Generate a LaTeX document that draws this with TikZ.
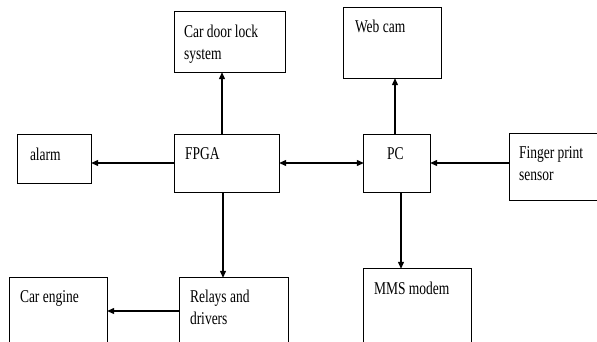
\documentclass[tikz,border=0pt]{standalone}
\usepackage{fontspec}
\setmainfont{Liberation Serif}[FakeStretch=0.75]
\usetikzlibrary{arrows.meta,calc}
\begin{document}
\begin{tikzpicture}[x=1pt,y=-1pt,
  box/.style={draw=black,line width=1pt},
  lbl/.style={anchor=base west,inner sep=0pt,align=left,font=\fontsize{18}{22}\selectfont},
  arr/.style={line width=1.2pt,-{Triangle[length=7pt,width=6pt]}},
  darr/.style={line width=1.2pt,{Triangle[length=7pt,width=6pt]}-{Triangle[length=7pt,width=6pt]}}]
\clip (0,0) rectangle (597,341);
\useasboundingbox (0,0) rectangle (597,341);
\fill[white] (0,0) rectangle (597,341);
% boxes
\node[inner sep=0pt,minimum width=110pt,minimum height=60pt] (door) at (230,42) {};
\node[inner sep=0pt,minimum width=104pt,minimum height=57pt] (fpga) at (227,163.5) {};
\node[inner sep=0pt,minimum width=73pt,minimum height=48pt] (alarm) at (54.5,159) {};
\node[inner sep=0pt,minimum width=97pt,minimum height=70pt] (webcam) at (392.5,43) {};
\node[inner sep=0pt,minimum width=66pt,minimum height=57pt] (pc) at (397,163.5) {};
\node[inner sep=0pt,minimum width=90pt,minimum height=66pt] (finger) at (555,167) {};
\node[inner sep=0pt,minimum width=108pt,minimum height=72pt] (relays) at (234,314) {};
\node[inner sep=0pt,minimum width=97pt,minimum height=72pt] (engine) at (58.5,314) {};
\node[inner sep=0pt,minimum width=107pt,minimum height=81pt] (mms) at (417.5,309.5) {};
\foreach \n in {door,fpga,alarm,webcam,pc,finger,relays,engine,mms}
  \draw[box] (\n.north west) rectangle (\n.south east);
% labels
\node[lbl] (tdoor) at ($(door.north west)+(9,48)$) {Car door lock\\system};
\node[lbl] (tfpga) at ($(fpga.north west)+(10,25)$) {FPGA};
\node[lbl] (talarm) at ($(alarm.north west)+(12,26)$) {alarm};
\node[lbl] (twebcam) at ($(webcam.north west)+(11,25)$) {Web cam};
\node[lbl] (tpc) at ($(pc.north west)+(23,25)$) {PC};
\node[lbl] (tfinger) at ($(finger.north west)+(9,47)$) {Finger print\\sensor};
\node[lbl] (trelays) at ($(relays.north west)+(10,47)$) {Relays and\\drivers};
\node[lbl] (tengine) at ($(engine.north west)+(10,25)$) {Car engine};
\node[lbl] (tmms) at ($(mms.north west)+(10,26)$) {MMS modem};
% connectors
\draw[arr] (fpga.north -| 222,0) -- (door.south -| 222,0);
\draw[arr] (fpga.west |- 0,163) -- (alarm.east |- 0,163);
\draw[darr] (fpga.east |- 0,163) -- (pc.west |- 0,163);
\draw[arr] (finger.west |- 0,163) -- (pc.east |- 0,163);
\draw[arr] (pc.north -| 395,0) -- (webcam.south -| 395,0);
\draw[arr] (fpga.south -| 223,0) -- (relays.north -| 223,0);
\draw[arr] (pc.south -| 401,0) -- (mms.north -| 401,0);
\draw[arr] (relays.west |- 0,311) -- (engine.east |- 0,311);
\end{tikzpicture}
\end{document}
